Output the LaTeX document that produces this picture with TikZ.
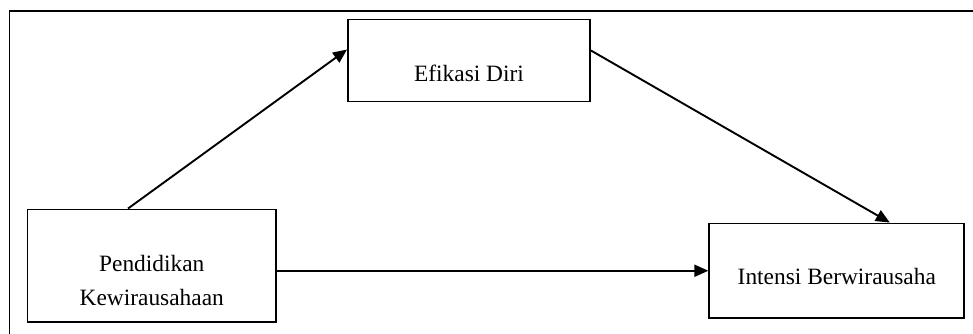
\documentclass[tikz,border=0pt]{standalone}
\usepackage{fontspec}
\setmainfont{Liberation Serif}
\usetikzlibrary{arrows.meta}
\begin{document}
\begin{tikzpicture}[x=1pt,y=-1pt,
  box/.style={draw,line width=1.9pt,rectangle,inner sep=0pt},
  txt/.style={font=\fontsize{23.4}{34}\selectfont,align=center,inner sep=0pt},
  conn/.style={line width=1.9pt,-{Triangle[length=14pt,width=12pt]}}]
\useasboundingbox (0,0) rectangle (973,334);
\draw[line width=1.9pt] (9.5,340) -- (9.5,11) -- (980,11);
\node[box,minimum width=248.5pt,minimum height=112.5pt,
  label={[txt,name=pkt,yshift=-15pt]center:Pendidikan\\Kewirausahaan}] (pk) at (151.75,265.75) {};
\node[box,minimum width=242pt,minimum height=82pt,
  label={[txt,name=eft,yshift=-13pt]center:Efikasi Diri}] (ef) at (469,60.5) {};
\node[box,minimum width=255pt,minimum height=94.5pt,
  label={[txt,name=intt,yshift=-6pt]center:Intensi Berwirausaha}] (int) at (836.8,270.75) {};
\draw[conn] ([xshift=-23.75pt]pk.north) -- ([yshift=11pt]ef.west);
\draw[conn] ([yshift=10pt]ef.east) -- ([xshift=53pt]int.north);
\draw[conn] ([yshift=-5pt]pk.east) -- (int.west);
\end{tikzpicture}
\end{document}
